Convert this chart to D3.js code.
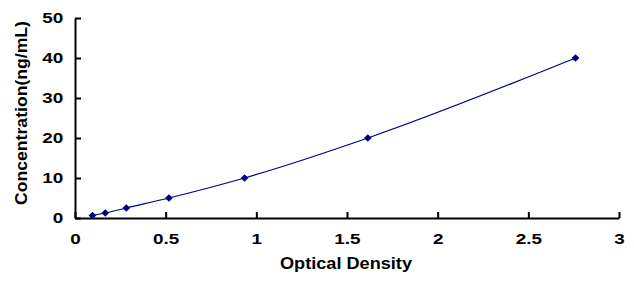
<!DOCTYPE html>
<html lang="en">
<head>
    <meta charset="UTF-8">
    <title>Standard Curve</title>
    <script src="https://d3js.org/d3.v7.min.js"></script>
    <style>
        body{margin:0;background:#fff;}
        text{font-family:Arial, "Liberation Sans", sans-serif;font-weight:bold;fill:#000;}
        .tick text{font-size:14px;}
        .axis path, .axis line{stroke:#000;stroke-width:2;}
    </style>
</head>
<body>
<svg id="main" width="634" height="288"></svg>
<script>
    // data
    let opticalDensity = [0.096, 0.167, 0.283, 0.518, 0.935, 1.615, 2.76];
    let concentration = [0.625, 1.25, 2.5, 5, 10, 20, 40];
    let xTicks = [0, 0.5, 1, 1.5, 2, 2.5, 3];
    let yTicks = [0, 10, 20, 30, 40, 50];

    let svg = d3.select('svg#main');
    let points = opticalDensity.map(function(d, i){ return [d, concentration[i]]; });

    let xScale = d3.scaleLinear().domain([0, 3]).range([75, 619]);
    let yScale = d3.scaleLinear().domain([0, 50]).range([218, 18]);
    let stretch = 1.35;

    let xAxis = svg.append('g')
        .attr('class', 'axis')
        .attr('transform', 'translate(0,218)')
        .call(d3.axisBottom(xScale).tickValues(xTicks).tickFormat(d3.format('~g'))
            .tickSizeInner(-6).tickSizeOuter(0).tickPadding(16));
    xAxis.selectAll('text').attr('transform', 'scale(' + stretch + ',1)');

    let yAxis = svg.append('g')
        .attr('class', 'axis')
        .attr('transform', 'translate(75,0)')
        .call(d3.axisLeft(yScale).tickValues(yTicks)
            .tickSizeInner(-6).tickSizeOuter(0).tickPadding(8.7));
    yAxis.selectAll('text').attr('transform', 'scale(' + stretch + ',1)');

    svg.append('text')
        .attr('x', 346)
        .attr('y', 269)
        .attr('text-anchor', 'middle')
        .attr('textLength', 132)
        .attr('lengthAdjust', 'spacingAndGlyphs')
        .style('font-size', '17px')
        .text('Optical Density');

    svg.append('text')
        .attr('transform', 'translate(27,113) rotate(-90)')
        .attr('text-anchor', 'middle')
        .attr('textLength', 184)
        .attr('lengthAdjust', 'spacingAndGlyphs')
        .style('font-size', '17px')
        .text('Concentration(ng/mL)');

    let line = d3.line()
        .x(function(d){ return xScale(d[0]); })
        .y(function(d){ return yScale(d[1]); })
        .curve(d3.curveMonotoneX);

    svg.append('path')
        .datum(points)
        .attr('d', line)
        .attr('fill', 'none')
        .attr('stroke', '#000080')
        .attr('stroke-width', 1.2);

    svg.selectAll('path.marker')
        .data(points)
        .enter()
        .append('path')
        .attr('class', 'marker')
        .attr('d', d3.symbol().type(d3.symbolSquare).size(30))
        .attr('transform', function(d){ return 'translate(' + xScale(d[0]) + ',' + yScale(d[1]) + ') rotate(45)'; })
        .attr('fill', '#000080');
</script>
</body>
</html>
